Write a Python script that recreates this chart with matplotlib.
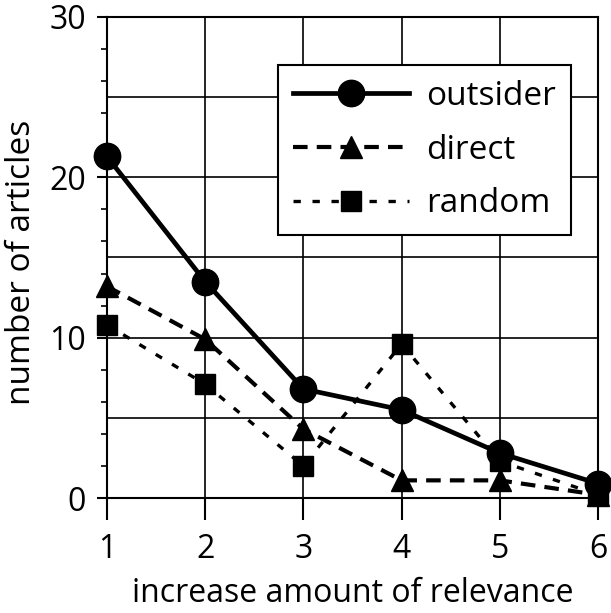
import matplotlib.pyplot as plt
from matplotlib.ticker import MultipleLocator

plt.rcParams['font.family'] = ['Open Sans', 'DejaVu Sans']

# data
relevance = [1, 2, 3, 4, 5, 6]
outsider = [21.3, 13.5, 6.8, 5.5, 2.8, 0.9]
direct = [13.2, 9.9, 4.3, 1.1, 1.1, 0.2]
random = [10.8, 7.1, 2.0, 9.6, 2.3, 0.2]

fig = plt.figure(figsize=(6.11, 6.13), dpi=100)
ax = fig.add_axes([0.175, 0.1876, 0.8037, 0.7847])

ax.plot(relevance, outsider, color='black', lw=3.4, marker='o', ms=19,
        label='outsider', clip_on=False, zorder=5)
ax.plot(relevance, direct, color='black', lw=3, dashes=(3.5, 2.2), marker='^',
        ms=16, label='direct', clip_on=False, zorder=4)
ax.plot(relevance, random, color='black', lw=2.4, dashes=(2.2, 3.5), marker='s',
        ms=15, label='random', clip_on=False, zorder=4)

ax.set_xlim(1, 6)
ax.set_ylim(0, 30)
ax.set_xticks(relevance)
ax.yaxis.set_major_locator(MultipleLocator(10))
ax.yaxis.set_minor_locator(MultipleLocator(2))
ax.xaxis.set_minor_locator(plt.NullLocator())

# grid: every integer on x, every 5 on y
for xv in relevance:
    ax.axvline(xv, color='black', lw=1.2, zorder=1)
for yv in range(0, 31, 5):
    ax.axhline(yv, color='black', lw=1.2, zorder=1)

for s in ax.spines.values():
    s.set_linewidth(1.5)

ax.tick_params(axis='x', which='major', direction='out', length=16, width=1.5,
               pad=9, labelsize=23)
ax.tick_params(axis='y', which='major', direction='out', length=7, width=1.5,
               pad=8, labelsize=23)
ax.tick_params(axis='y', which='minor', direction='out', length=4, width=1.2)

ax.set_xlabel('increase amount of relevance', fontsize=23, labelpad=8)
ax.set_ylabel('number of articles', fontsize=24, labelpad=4)
ax.yaxis.set_label_coords(-0.14, 0.49)

leg = ax.legend(loc='upper left', bbox_to_anchor=(0.348, 0.900),
                borderaxespad=0, fontsize=24, handlelength=3.5,
                handletextpad=0.5, labelspacing=0.62, borderpad=0.45,
                fancybox=False, framealpha=1, edgecolor='black')
leg.get_frame().set_linewidth(1.5)
leg.set_zorder(10)

fig.savefig('out.png', dpi=100)
